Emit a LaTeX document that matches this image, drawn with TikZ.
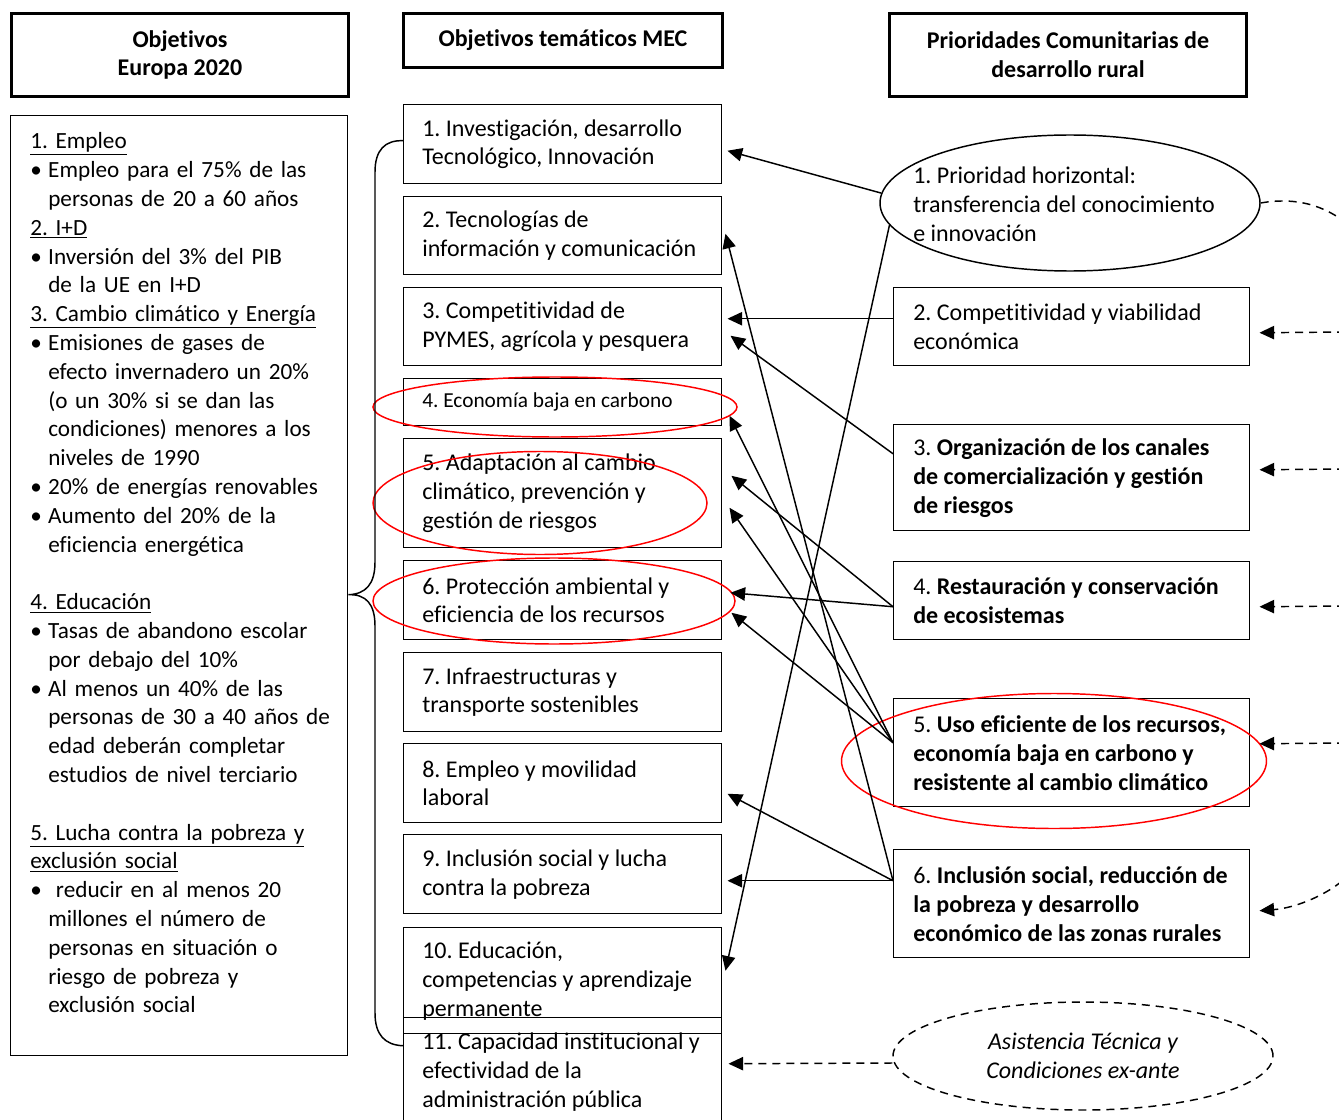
\documentclass[tikz,border=0pt]{standalone}
\usepackage{fontspec}
\setmainfont[Ligatures=NoCommon]{Carlito}
\usetikzlibrary{arrows.meta,calc,shapes.geometric}
\frenchspacing
\hyphenpenalty=10000
\exhyphenpenalty=10000
\newcommand\szA{\fontsize{18pt}{21.7pt}\selectfont}
\newcommand\szB{\fontsize{16pt}{20pt}\selectfont}
\newcommand\Bul{\makebox[13.5pt][l]{•}}
\newcommand\Ind{\hspace*{13.5pt}}
% box + its left-aligned text
\newcommand\MecBox[4]{%
  \node[mec, minimum height=#3] (#1) at (403,#2) {};
  \node[btxt] (#1t) at ($(#1.west)+(19,0)$) {#4};}
\newcommand\PriBox[4]{%
  \node[pri, minimum height=#3] (#1) at (893,#2) {};
  \node[btxt] (#1t) at ($(#1.west)+(20,0)$) {#4};}
\begin{document}
\begin{tikzpicture}[x=0.75pt,y=-0.75pt,
  hdr/.style={draw, line width=2.25pt, anchor=north west, inner sep=0pt, align=center, font=\szA\bfseries},
  mec/.style={draw, line width=1.1pt, anchor=north west, minimum width=238.5pt, inner sep=0pt},
  pri/.style={draw, line width=1.1pt, anchor=north west, minimum width=267pt, inner sep=0pt},
  btxt/.style={anchor=west, align=left, inner sep=0pt, font=\szA},
  redell/.style={draw=red, line width=1.1pt, ellipse, inner sep=0pt},
  arr/.style={-{Triangle[length=11pt,width=10pt]}, line width=1.1pt},
  darr/.style={arr, dash pattern=on 6pt off 4.5pt},
  ]
\path[use as bounding box] (0,0) rectangle (1339,1120);
\clip (0,0) rectangle (1339,1120);

% headers
\node[hdr, minimum width=252.75pt, minimum height=62.25pt] (H1) at (10,12) {Objetivos\\Europa 2020};
\node[hdr, minimum width=239.25pt, minimum height=40.5pt] (H2) at (402,12) {Objetivos temáticos MEC};
\node[hdr, minimum width=267.75pt, minimum height=62.25pt] (H3) at (888,12) {Prioridades Comunitarias de\\desarrollo rural};

% left box
\node[draw, line width=1.1pt, anchor=north west, minimum width=252.75pt, minimum height=705pt, inner sep=0pt] (L) at (10,115) {};
\node[anchor=base west, inner sep=0pt, text width=235pt, align=left, font=\fontsize{17.4pt}{21.6pt}\selectfont] (Lt) at (30,149) {%
\underline{1. Empleo}\\
\Bul Empleo para el 75\% de las\\
\Ind personas de 20 a 60 años\\
\underline{2. I+D}\\
\Bul Inversión del 3\% del PIB\\
\Ind de la UE en I+D\\
\underline{3. Cambio climático y Energía}\\
\Bul Emisiones de gases de\\
\Ind efecto invernadero un 20\%\\
\Ind (o un 30\% si se dan las\\
\Ind condiciones) menores a los\\
\Ind niveles de 1990\\
\Bul 20\% de energías renovables\\
\Bul Aumento del 20\% de la\\
\Ind eficiencia energética\\[21.6pt]
\underline{4. Educación}\\
\Bul Tasas de abandono escolar\\
\Ind por debajo del 10\%\\
\Bul Al menos un 40\% de las\\
\Ind personas de 30 a 40 años de\\
\Ind edad deberán completar\\
\Ind estudios de nivel terciario\\[21.6pt]
\underline{5. Lucha contra la pobreza y}\\
\underline{exclusión social}\\
\Bul\ reducir en al menos 20\\
\Ind millones el número de\\
\Ind personas en situación o\\
\Ind riesgo de pobreza y\\
\Ind exclusión social};

% MEC boxes
\MecBox{b1}{104}{59.25pt}{1. Investigación, desarrollo\\Tecnológico, Innovación}
\MecBox{b2}{196}{58.5pt}{2. Tecnologías de\\información y comunicación}
\MecBox{b3}{287}{58.5pt}{3. Competitividad de\\PYMES, agrícola y pesquera}
\node[mec, minimum height=35.25pt] (b4) at (403,378) {};
\node[btxt, font=\szB] (b4t) at ($(b4.west)+(19,0)$) {4. Economía baja en carbono};
\MecBox{b5}{438}{81.75pt}{5. Adaptación al cambio\\climático, prevención y\\gestión de riesgos}
\MecBox{b6}{560}{59.25pt}{6. Protección ambiental y\\eficiencia de los recursos}
\MecBox{b7}{652}{59.25pt}{7. Infraestructuras y\\transporte sostenibles}
\MecBox{b8}{743}{59.25pt}{8. Empleo y movilidad\\laboral}
\MecBox{b9}{834}{59.25pt}{9. Inclusión social y lucha\\contra la pobreza}
\MecBox{b10}{927}{79.5pt}{10. Educación,\\competencias y aprendizaje\\permanente}
\MecBox{b11}{1017}{81pt}{11. Capacidad institucional y\\efectividad de la\\administración pública}

% priorities
\node[draw, ellipse, line width=1.1pt, minimum width=285pt, minimum height=102pt, inner sep=0pt] (P1) at (1070,203) {};
\node[btxt] (P1t) at (913,204) {1. Prioridad horizontal:\\transferencia del conocimiento\\e innovación};
\PriBox{P2}{287}{58.5pt}{2. Competitividad y viabilidad\\económica}
\PriBox{P3}{424}{79.5pt}{3. \textbf{Organización de los canales}\\\textbf{de comercialización y gestión}\\\textbf{de riesgos}}
\PriBox{P4}{561}{58.5pt}{4. \textbf{Restauración y conservación}\\\textbf{de ecosistemas}}
\PriBox{P5}{698}{81pt}{5. \textbf{Uso eficiente de los recursos,}\\\textbf{economía baja en carbono y}\\\textbf{resistente al cambio climático}}
\PriBox{P6}{849}{81pt}{6. \textbf{Inclusión social, reducción de}\\\textbf{la pobreza y desarrollo}\\\textbf{económico de las zonas rurales}}
\node[draw, ellipse, line width=1.1pt, dash pattern=on 6pt off 4.5pt, minimum width=285pt, minimum height=81pt, inner sep=0pt, align=center, font=\szA\itshape] (AT) at (1083,1056) {Asistencia Técnica y\\Condiciones ex-ante};

% red ellipses
\node[redell, minimum width=273pt, minimum height=45pt] (R4) at (555,407) {};
\node[redell, minimum width=250.5pt, minimum height=77.25pt] (R5) at (540,503) {};
\node[redell, minimum width=271.5pt, minimum height=64.5pt] (R6) at (554,601) {};
\node[redell, minimum width=318.75pt, minimum height=101.25pt] (RP5) at (1054,761) {};

% brace
\coordinate (brT) at ($(b1.west)+(0,-3.5)$);
\coordinate (brB) at ($(b11.west)+(0,-26)$);
\coordinate (brM) at ($(L.east)+(0,9)$);
\draw[line width=1.1pt] (brT) .. controls (385,140) and (375,150) .. (375,172) -- (375,562)
  .. controls (375,584) and (366,594) .. (brM)
  .. controls (366,594) and (375,604) .. (375,626) -- (375,1013)
  .. controls (375,1035) and (385,1045) .. (brB);

% solid arrows
\draw[arr] (P1.177.5) -- ($(b1.east)+(5,6.5)$);
\draw[arr] (P1.187.7) -- ($(b10.east)+(3,-10)$);
\draw[arr] ($(P2.west)+(0,-8)$) -- ($(b3.east)+(5,-8)$);
\draw[arr] ($(P3.west)+(0,-24)$) -- ($(b3.east)+(8,9)$);
\draw[arr] ($(P4.west)+(0,6)$) -- ($(b5.east)+(9,-17.5)$);
\draw[arr] ($(P4.west)+(0,6)$) -- ($(b6.east)+(8,-7.5)$);
\draw[arr] ($(P5.west)+(0,-10)$) -- ($(b4.east)+(7,13.5)$);
\draw[arr] ($(P5.west)+(0,-10)$) -- ($(b5.east)+(7,14.5)$);
\draw[arr] ($(P5.west)+(0,-10)$) -- ($(b6.east)+(9,12.5)$);
\draw[arr] ($(P6.west)+(0,-23)$) -- ($(b2.east)+(3,-2)$);
\draw[arr] ($(P6.west)+(0,-23)$) -- ($(b8.east)+(5,10.5)$);
\draw[arr] ($(P6.west)+(0,-23)$) -- ($(b9.east)+(5,6.5)$);

% dashed arrows
\coordinate (R2) at (1345,332);
\coordinate (R3) at (1345,469);
\coordinate (R4s) at (1345,606);
\coordinate (R5s) at (1345,743);
\coordinate (Rtop) at (1352,228);
\coordinate (Rbot) at (1352,872);
\draw[darr] (R2) -- ($(P2.east)+(9,6)$);
\draw[darr] (R3) -- ($(P3.east)+(9,-8)$);
\draw[darr] (R4s) -- ($(P4.east)+(9,6)$);
\draw[darr] (R5s) -- ($(P5.east)+(9,-9)$);
\draw[line width=1.1pt, dash pattern=on 6pt off 4.5pt] (P1.east) .. controls (1300,196) and (1330,208) .. (Rtop);
\draw[darr] (Rbot) .. controls (1330,895) and (1295,908) .. ($(P6.east)+(9,7)$);
\draw[darr] ($(AT.west)+(0,7)$) -- ($(b11.east)+(6,-8)$);
\end{tikzpicture}
\end{document}
